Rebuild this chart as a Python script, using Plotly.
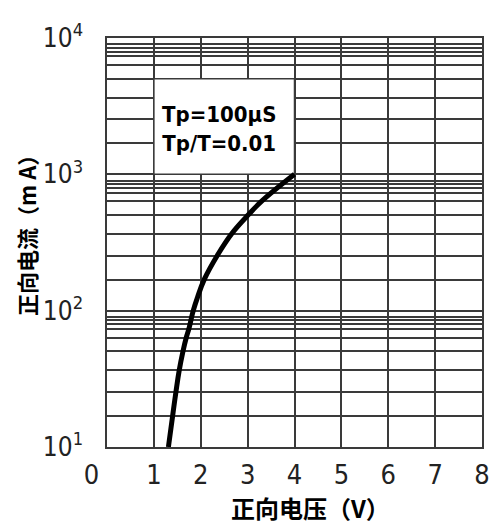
import plotly.graph_objects as go

# Forward voltage (V) vs forward current (mA)
voltage = [1.31, 1.40, 1.47, 1.54, 1.62, 1.69, 1.745, 1.84, 1.93, 2.08, 2.35, 2.66, 3.02, 3.30, 4.00]
current = [10, 16.9, 25.3, 36.4, 50.2, 63.3, 73.2, 100, 125, 171, 253, 367, 507, 635, 1000]

x_ticks = [0, 1, 2, 3, 4, 5, 6, 7, 8]
x_ticktext = ["0\u00a0\u00a0\u00a0\u00a0", "1", "2", "3", "4", "5", "6", "7", "8"]
y_ticks = [10, 100, 1000, 10000]
y_ticktext = ["10<sup>1</sup>", "10<sup>2</sup>", "10<sup>3</sup>", "10<sup>4</sup>"]
# minor grid multipliers per decade as drawn in the reference
minor_mult = [1.69, 2.53, 3.64, 5.02, 6.33, 7.32, 7.94, 8.51, 8.98]
decades = [10, 100, 1000]
minor_vals = [d * m for d in decades for m in minor_mult]

note_text = "Tp=100μS<br>Tp/T=0.01"
x_title = "正向电压（V）"
y_title = "正向电流（m A）"

NUM_FONT = "Liberation Sans Narrow, DejaVu Sans Condensed, Liberation Sans, Arial, sans-serif"
CJK_FONT = "Noto Sans CJK SC, sans-serif"
GRID = "#3a3a3a"

fig = go.Figure()
fig.add_trace(go.Scatter(
    x=voltage, y=current, mode="lines",
    line=dict(color="black", width=5, shape="spline", smoothing=1.2),
    showlegend=False,
))

# white note box covering the grid
fig.add_shape(type="rect", xref="x", yref="y", x0=1, x1=4, y0=1000, y1=5020,
              fillcolor="white", line=dict(color=GRID, width=1.5), layer="between")

fig.add_annotation(xref="x", yref="y", x=2.38, y=3.33, text="<b>" + note_text + "</b>",
                   showarrow=False, align="center", xanchor="center", yanchor="middle",
                   font=dict(family=NUM_FONT, size=22, color="black"))

fig.add_annotation(xref="paper", yref="paper", x=(313 - 107) / 379, y=(447 - 510) / 428,
                   text="<b>" + x_title + "</b>", showarrow=False,
                   xanchor="center", yanchor="middle",
                   font=dict(family=CJK_FONT, size=24, color="black"))
fig.add_annotation(xref="paper", yref="paper", x=(25 - 107) / 379, y=(447 - 220) / 428,
                   text="<b>" + y_title + "</b>", showarrow=False, textangle=-90,
                   xanchor="center", yanchor="middle",
                   font=dict(family=CJK_FONT, size=22, color="black"))

# page body has an 8px margin, so the figure is drawn 8px smaller and shifted
fig.update_layout(
    width=493, height=520, autosize=False,
    margin=dict(l=99, r=15, t=11, b=81),
    plot_bgcolor="white", paper_bgcolor="white",
    xaxis=dict(range=[0, 8], tickmode="array", tickvals=x_ticks, ticktext=x_ticktext,
               showgrid=True, gridcolor=GRID, gridwidth=1.5, zeroline=False,
               showline=True, linecolor=GRID, linewidth=1.5, mirror=True,
               ticks="", ticklabelstandoff=3,
               tickfont=dict(family=NUM_FONT, size=27, color="#222")),
    yaxis=dict(type="log", range=[0.9999, 4.0001], tickmode="array", tickvals=y_ticks,
               ticktext=y_ticktext, ticklabeloverflow="allow",
               showgrid=True, gridcolor=GRID, gridwidth=1.5, zeroline=False,
               showline=True, linecolor=GRID, linewidth=1.5, mirror=True,
               ticks="", ticklabelstandoff=17,
               tickfont=dict(family=NUM_FONT, size=26, color="#222"),
               minor=dict(tickmode="array", tickvals=minor_vals, showgrid=True,
                          gridcolor=GRID, gridwidth=1.5, ticks="")),
)

fig.write_html("out.html")
